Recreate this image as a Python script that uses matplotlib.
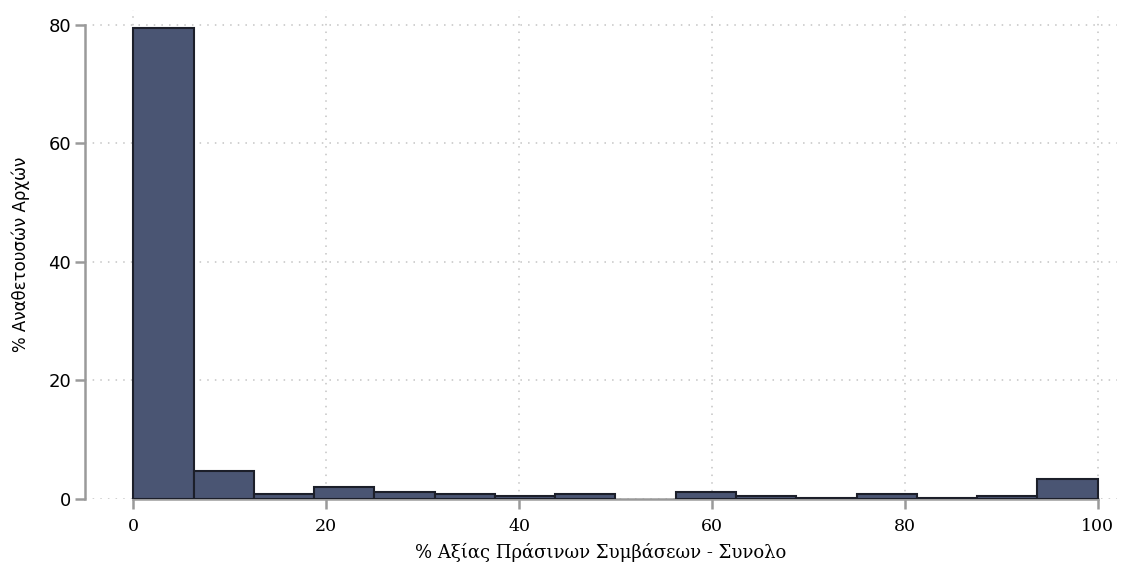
import numpy as np
import matplotlib.pyplot as plt

# share of contracting authorities per bin of "green" contract value (%)
bin_edges = np.linspace(0, 100, 17)
pct_authorities = [79.5, 4.8, 0.9, 2.0, 1.25, 0.9, 0.5, 0.9, 0.0,
                   1.25, 0.5, 0.25, 0.9, 0.25, 0.5, 3.4]
x_ticks = [0, 20, 40, 60, 80, 100]
y_ticks = [0, 20, 40, 60, 80]

x_label = "% Αξίας Πράσινων Συμβάσεων - Συνολο"
y_label = "% Αναθετουσών Αρχών"

fig = plt.figure(figsize=(11.22, 5.64), dpi=100)
ax = fig.add_axes([0.0758, 0.1152, 0.9197, 0.8671])

widths = np.diff(bin_edges)
heights = np.array(pct_authorities)
mask = heights > 0
ax.bar(bin_edges[:-1][mask], heights[mask], width=widths[mask], align="edge",
       color="#4a5573", edgecolor="#1c1f2a", linewidth=1.5, zorder=3)

ax.set_xlim(-5, 102)
ax.set_ylim(0, 82.5)

axis_grey = "#9a9a9a"
ax.spines["top"].set_visible(False)
ax.spines["right"].set_visible(False)
ax.spines["left"].set_bounds(0, 80)
ax.spines["bottom"].set_bounds(0, 100)
for side in ("left", "bottom"):
    ax.spines[side].set_color(axis_grey)
    ax.spines[side].set_linewidth(1.8)
    ax.spines[side].set_zorder(2)

ax.set_xticks(x_ticks)
ax.set_yticks(y_ticks)
ax.tick_params(axis="both", length=7, width=1.8, color=axis_grey)
ax.tick_params(axis="y", pad=3)
ax.tick_params(axis="x", pad=7)

for lbl in ax.get_yticklabels():
    lbl.set_fontfamily("DejaVu Sans")
    lbl.set_fontsize(13)
for lbl in ax.get_xticklabels():
    lbl.set_fontfamily("DejaVu Serif")
    lbl.set_fontsize(12.5)

ax.grid(True, color="#c4c4c4", linestyle=(0, (1, 4)), linewidth=1.1, zorder=0)
ax.set_axisbelow(True)

ax.set_xlabel(x_label, family="DejaVu Serif", fontsize=13, labelpad=5)
ax.set_ylabel(y_label, family="DejaVu Sans", fontsize=12, labelpad=13)

fig.savefig("out.png", dpi=100)
